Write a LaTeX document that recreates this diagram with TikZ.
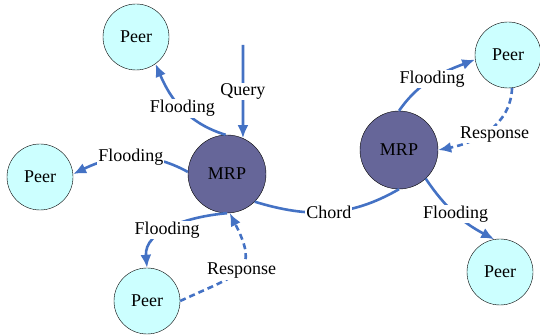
\documentclass[tikz,border=0pt]{standalone}
\usepackage{fontspec}
\setmainfont{Liberation Serif}
\usepackage{xcolor}
\usetikzlibrary{arrows.meta}

\definecolor{linkblue}{HTML}{4472C4}
\definecolor{peerfill}{HTML}{CCFFFF}
\definecolor{mrpfill}{HTML}{666699}

\begin{document}
\begin{tikzpicture}[x=1pt, y=1pt,
  peer/.style={circle, draw, thin, fill=peerfill, minimum size=66pt, inner sep=0pt, font=\fontsize{18}{20}\selectfont},
  mrp/.style ={peer, fill=mrpfill, minimum size=78pt},
  link/.style={draw=linkblue, line width=2.6pt},
  flow/.style={link, -{Latex[length=13pt,width=11pt]}},
  resp/.style={flow, dash pattern=on 6pt off 4pt},
  lbl/.style ={fill=white, inner sep=1pt, font=\fontsize{18}{20}\selectfont}
]
  \useasboundingbox (0,0) rectangle (540,336);

  % Rendezvous points
  \node[mrp] (mrpA) at (227,162) {MRP};
  \node[mrp] (mrpB) at (399,186) {MRP};

  % Peers
  \node[peer] (peerTop)    at (136,299) {Peer};
  \node[peer] (peerLeft)   at (40,159)  {Peer};
  \node[peer] (peerBottom) at (147,35)  {Peer};
  \node[peer] (peerRight)  at (508,281) {Peer};
  \node[peer] (peerLow)    at (500,64)  {Peer};

  % Incoming query
  \coordinate (qsrc) at (243,291);
  \draw[flow] (qsrc) -- node[lbl] {Query} (mrpA.66);

  % Flooding from the left MRP
  \draw[flow] (mrpA.92)  to[out=163, in=293] node[lbl] {Flooding} (peerTop.-54);
  \draw[flow] (mrpA.177) to[out=151, in=26]  node[lbl] {Flooding} (peerLeft.5);
  \draw[flow] (mrpA.-90) to[out=185, in=95]  node[lbl, pos=0.55] {Flooding} (peerBottom.90);
  \draw[resp] (peerBottom.0) to[out=25, in=-63, looseness=1.7] node[lbl, pos=0.47, xshift=4pt] {Response} (mrpA.-86);

  % Chord link between the MRPs
  \draw[link] (mrpA.-45) to[out=-17, in=210] node[lbl] {Chord} (mrpB.-90);

  % Flooding from the right MRP
  \draw[flow] (mrpB.90)  to[out=55, in=201]  node[lbl] {Flooding} (peerRight.188);
  \draw[resp] (peerRight.-83) to[out=-92, in=11] node[lbl, pos=0.5, xshift=6pt, yshift=-4pt] {Response} (mrpB.0);
  \draw[flow] (mrpB.-47) to[out=-56, in=152] node[lbl] {Flooding} (peerLow.100);
\end{tikzpicture}
\end{document}
